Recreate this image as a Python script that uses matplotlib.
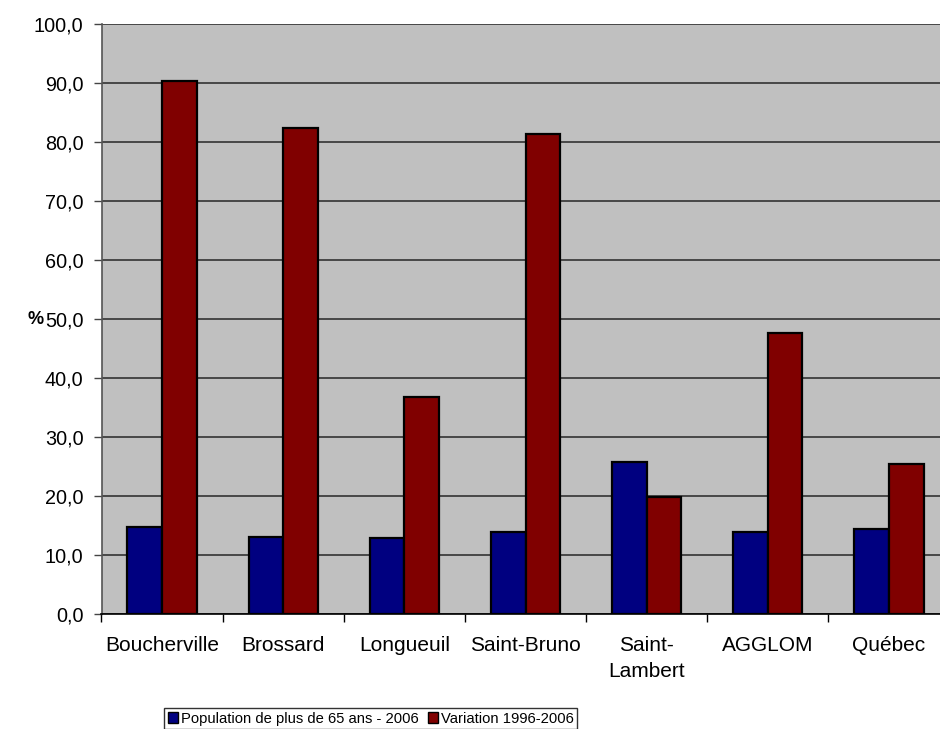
import matplotlib
matplotlib.use("Agg")
import matplotlib.pyplot as plt
import numpy as np
from matplotlib.patches import Patch

plt.rcParams['font.family'] = ['Liberation Sans', 'DejaVu Sans']

categories = ["Boucherville", "Brossard", "Longueuil", "Saint-Bruno",
              "Saint-\nLambert", "AGGLOM", "Québec"]
pop_65_2006 = [14.8, 13.1, 12.9, 13.9, 25.8, 13.9, 14.4]
variation_1996_2006 = [90.3, 82.3, 36.8, 81.4, 19.8, 47.7, 25.5]
series_names = ["Population de plus de 65 ans - 2006", "Variation 1996-2006"]
yticks = np.arange(0, 101, 10)
ytick_labels = [f"{v:.1f}".replace(".", ",") for v in yticks]

blue = "#000080"
red = "#800000"

fig = plt.figure(figsize=(9.4, 7.29), dpi=100)
W, H = 940, 729
left, right, top, bottom = 101.5, 949.5, 24, 614
ax = fig.add_axes([left / W, (H - bottom) / H, (right - left) / W, (bottom - top) / H])
ax.set_facecolor("#C0C0C0")

x = np.arange(len(categories))
bw = 1 / 3.5
ax.bar(x - bw / 2, pop_65_2006, width=bw, color=blue, edgecolor="black",
       linewidth=1.6, zorder=3)
ax.bar(x + bw / 2, variation_1996_2006, width=bw, color=red, edgecolor="black",
       linewidth=1.6, zorder=3)

ax.set_xlim(-0.5, len(categories) - 0.5)
ax.set_ylim(0, 100)
ax.set_yticks(yticks)
ax.set_yticklabels(ytick_labels, fontsize=14.3)
ax.yaxis.grid(True, color="#333333", linewidth=1.2, zorder=1)
ax.set_axisbelow(True)

# category boundaries carry the tick marks; labels sit at group centres
ax.set_xticks(np.arange(len(categories) + 1) - 0.5)
ax.set_xticklabels([])
ax.set_xticks(x, minor=True)
ax.set_xticklabels(categories, minor=True, fontsize=15, linespacing=1.45)
ax.tick_params(axis="x", which="minor", length=0, pad=16)
ax.tick_params(axis="x", which="major", length=6, width=1, direction="out", color="black")
ax.tick_params(axis="y", length=6, width=1, direction="out", color="#444444", pad=7)

for s in ["top", "right"]:
    ax.spines[s].set_visible(False)
ax.spines["left"].set_color("#555555")
ax.spines["left"].set_linewidth(1.2)
ax.spines["bottom"].set_color("black")
ax.spines["bottom"].set_linewidth(1.2)

fig.text(36 / W, 1 - 319 / H, "%", fontsize=13, fontweight="bold",
         ha="center", va="center")

handles = [Patch(facecolor=blue, edgecolor="black", linewidth=1),
           Patch(facecolor=red, edgecolor="black", linewidth=1)]
leg = fig.legend(handles, series_names, loc="upper left",
                 bbox_to_anchor=(164 / W, 1 - 708 / H), ncol=2, fontsize=10.6,
                 frameon=True, fancybox=False, handlelength=0.7, handleheight=0.7,
                 handletextpad=0.2, columnspacing=0.6, borderpad=0.25,
                 borderaxespad=0)
leg.get_frame().set_edgecolor("black")
leg.get_frame().set_linewidth(1)

fig.savefig("out.png", dpi=100)
